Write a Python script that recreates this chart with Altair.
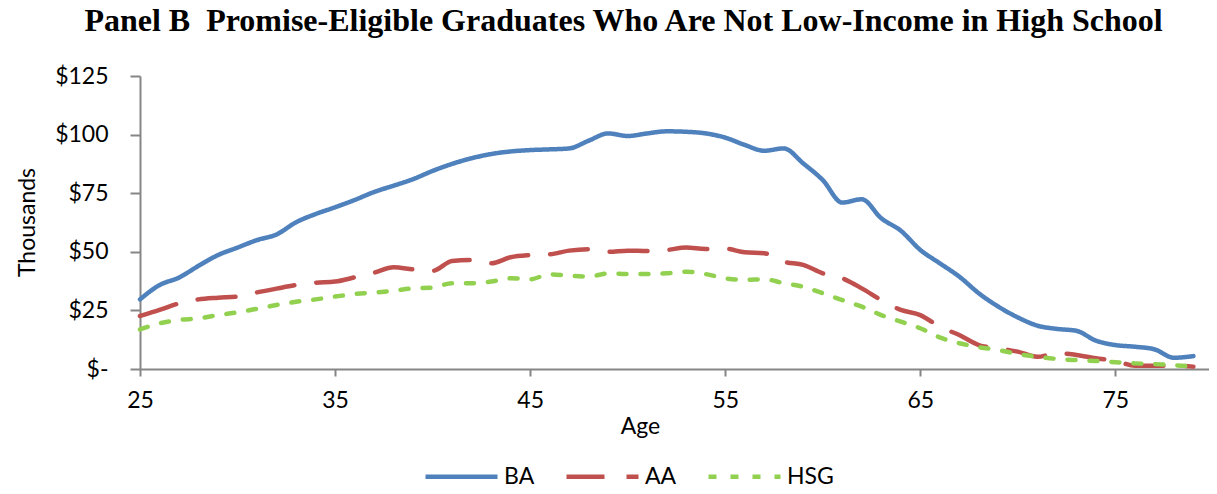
import altair as alt
import pandas as pd

ages = [25, 26, 27, 28, 29, 30, 31, 32, 33, 34,
        35, 36, 37, 38, 39, 40, 41, 42, 43, 44,
        45, 46, 47, 48, 49, 50, 51, 52, 53, 54,
        55, 56, 57, 58, 59, 60, 61, 62, 63, 64,
        65, 66, 67, 68, 69, 70, 71, 72, 73, 74,
        75, 76, 77, 78, 79]

ba = [29.7, 35.8, 39.0, 44.0, 48.6, 51.8, 55.0, 57.4, 62.6, 66.1,
      69.0, 72.1, 75.5, 78.2, 81.0, 84.5, 87.5, 89.9, 91.7, 92.8,
      93.4, 93.7, 94.1, 97.4, 100.5, 99.4, 100.5, 101.4, 101.2, 100.5,
      98.7, 95.6, 93.1, 94.1, 87.7, 80.6, 71.0, 72.4, 64.3, 59.0,
      50.8, 45.1, 39.4, 32.3, 26.6, 22.0, 18.5, 17.1, 16.3, 12.1,
      10.2, 9.5, 8.4, 4.8, 5.5]

aa = [22.6, 25.2, 28.0, 29.7, 30.4, 30.9, 32.7, 34.3, 35.8, 36.8,
      37.3, 39.1, 41.1, 43.4, 42.5, 41.9, 46.1, 46.5, 45.1, 47.7,
      48.6, 48.9, 50.5, 51.1, 50.0, 50.5, 50.3, 50.8, 51.8, 51.2,
      51.3, 49.8, 49.4, 45.8, 44.4, 40.8, 38.7, 34.4, 29.4, 25.2,
      23.0, 18.0, 14.5, 10.2, 8.8, 7.4, 5.2, 6.8, 6.0, 4.6,
      3.5, 1.4, 1.4, 1.4, 1.0]

hsg = [16.9, 19.5, 20.9, 21.6, 23.0, 24.2, 25.7, 27.3, 28.7, 29.7,
       30.9, 32.0, 32.6, 33.4, 34.4, 34.7, 36.6, 36.6, 37.3, 38.7,
       38.3, 40.4, 39.8, 39.4, 40.8, 40.5, 40.5, 40.8, 41.5, 40.5,
       38.7, 38.0, 38.3, 36.6, 35.1, 32.3, 29.4, 26.6, 23.0, 20.2,
       17.4, 13.5, 11.0, 9.3, 8.1, 6.4, 5.2, 4.3, 3.8, 3.4,
       2.9, 2.4, 2.1, 1.6, 1.0]

series = ["BA", "AA", "HSG"]
colors = ["#4F81BD", "#C0504D", "#92D050"]
dashes = [[1, 0], [38, 22], [8, 14]]

x_ticks = [25, 35, 45, 55, 65, 75]
y_ticks = [0, 25, 50, 75, 100, 125]

rows = []
for name, vals in zip(series, [ba, aa, hsg]):
    for a, v in zip(ages, vals):
        rows.append({"Age": a, "Value": v, "Series": name})
df = pd.DataFrame(rows)

FONT = "Lato"
FS = 23
AXIS_COLOR = "#868686"

legend = alt.Legend(
    title=None,
    orient="none",
    legendX=283,
    legendY=362,
    direction="horizontal",
    symbolType="stroke",
    symbolSize=5184,
    symbolStrokeWidth=4.5,
    labelFontSize=FS,
    labelFont=FONT,
    labelColor="black",
    labelOffset=4,
    columnPadding=22,
)

chart = alt.Chart(df).mark_line(
    strokeWidth=4.5, interpolate="monotone", strokeCap="round"
).encode(
    x=alt.X(
        "Age:Q",
        scale=alt.Scale(domain=[25, 79.8], nice=False, zero=False),
        axis=alt.Axis(
            values=x_ticks, title="Age", grid=False, labelFlush=False,
            domainColor=AXIS_COLOR, domainWidth=2,
            tickColor=AXIS_COLOR, tickWidth=2, tickSize=7,
            labelFont=FONT, labelFontSize=FS, labelColor="black",
            labelPadding=13,
            titleFont=FONT, titleFontSize=FS, titleFontWeight="normal",
            titleColor="black", titleX=500, titleY=57, titleBaseline="middle",
        ),
    ),
    y=alt.Y(
        "Value:Q",
        scale=alt.Scale(domain=[0, 125], nice=False),
        axis=alt.Axis(
            values=y_ticks, title="Thousands", grid=False,
            labelExpr="datum.value == 0 ? '$-\u00a0\u00a0' : '$' + datum.value",
            domainColor=AXIS_COLOR, domainWidth=2,
            tickColor=AXIS_COLOR, tickWidth=2, tickSize=10,
            labelFont=FONT, labelFontSize=FS, labelColor="black",
            labelPadding=22,
            titleFont=FONT, titleFontSize=FS, titleFontWeight="normal",
            titleColor="black", titleAngle=-90, titleX=-113, titleY=146,
            titleAlign="center", titleBaseline="middle",
        ),
    ),
    color=alt.Color("Series:N", scale=alt.Scale(domain=series, range=colors), legend=legend),
    strokeDash=alt.StrokeDash("Series:N", scale=alt.Scale(domain=series, range=dashes), legend=legend),
).properties(
    width=1069,
    height=293,
    title=alt.TitleParams(
        "Panel B\u00a0 Promise-Eligible Graduates Who Are Not Low-Income in High School",
        font="Liberation Serif", fontSize=32, fontWeight="bold", color="black",
        anchor="middle", dx=-51, offset=27,
    ),
    autosize=alt.AutoSizeParams(type="none"),
    padding={"left": 132, "top": 68, "right": 0, "bottom": 118},
).configure_view(stroke=None)

chart.save("out.html", embed_options={"renderer": "svg", "actions": False})
